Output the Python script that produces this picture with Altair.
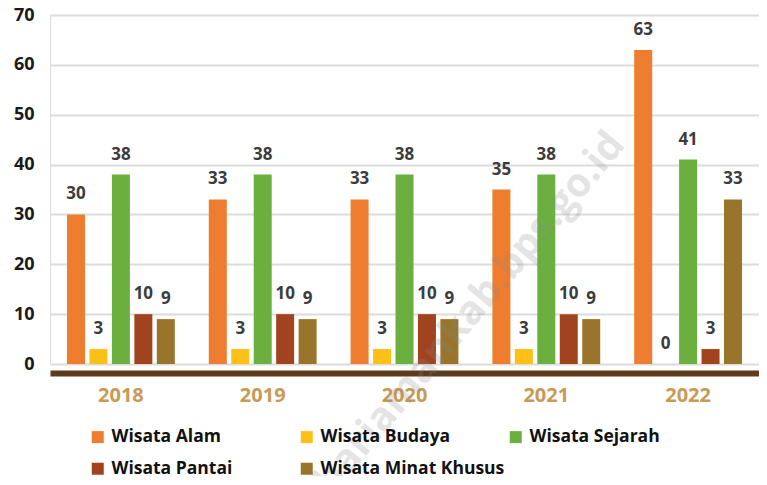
import altair as alt
import pandas as pd

years = ["2018", "2019", "2020", "2021", "2022"]
series = ["Wisata Alam", "Wisata Budaya", "Wisata Sejarah", "Wisata Pantai", "Wisata Minat Khusus"]
colors = ["#EF7D2F", "#FDC017", "#6BB03E", "#A2431F", "#98752B"]
values = {
    "Wisata Alam": [30, 33, 33, 35, 63],
    "Wisata Budaya": [3, 3, 3, 3, 0],
    "Wisata Sejarah": [38, 38, 38, 38, 41],
    "Wisata Pantai": [10, 10, 10, 10, 3],
    "Wisata Minat Khusus": [9, 9, 9, 9, 33],
}
y_ticks = [0, 10, 20, 30, 40, 50, 60, 70]
watermark = "bariamankab.bps.go.id"

rows = []
for s in series:
    for yr, v in zip(years, values[s]):
        rows.append({"Tahun": yr, "Jenis": s, "Nilai": v, "order": series.index(s)})
df = pd.DataFrame(rows)

FONT = "Open Sans"

x_enc = alt.X("Tahun:N", sort=years,
              scale=alt.Scale(paddingInner=0.24, paddingOuter=0.12),
              axis=alt.Axis(title=None, labelAngle=0, labelFont=FONT, labelFontSize=20,
                            labelFontWeight="bold", labelColor="#C99A55", ticks=False,
                            domainColor="#5E3B1C", domainWidth=6, offset=9,
                            labelPadding=12, grid=False))
xo_enc = alt.XOffset("Jenis:N", sort=series,
                     scale=alt.Scale(paddingInner=0.2, paddingOuter=0))
y_enc = alt.Y("Nilai:Q",
              scale=alt.Scale(domain=[0, 70], nice=False),
              axis=alt.Axis(title=None, values=y_ticks, labelFont=FONT, labelFontSize=18,
                            labelFontWeight="bold", labelColor="#1A1A1A", ticks=False,
                            domain=False, labelPadding=16, gridColor="#DCDCDC",
                            gridWidth=2))

bars = alt.Chart(df).mark_bar(size=18).encode(
    x=x_enc,
    xOffset=xo_enc,
    y=y_enc,
    color=alt.Color("Jenis:N", sort=series,
                    scale=alt.Scale(domain=series, range=colors),
                    legend=alt.Legend(title=None, orient="none", legendX=39, legendY=413,
                                      direction="horizontal", columns=3, gridAlign="all",
                                      symbolType="square", symbolSize=144,
                                      symbolStrokeWidth=0, labelFont=FONT,
                                      labelFontSize=17.5, labelFontWeight="bold",
                                      labelColor="#111111", labelLimit=400,
                                      columnPadding=2, rowPadding=13, padding=0,
                                      labelOffset=5)),
)

labels = alt.Chart(df).mark_text(baseline="bottom", dy=-11, font=FONT, fontSize=17,
                                 fontWeight="bold", color="#3C3C3C").encode(
    x=alt.X("Tahun:N", sort=years),
    xOffset=alt.XOffset("Jenis:N", sort=series),
    y="Nilai:Q",
    text="Nilai:Q",
)

wm = alt.Chart(pd.DataFrame({"t": [watermark]})).mark_text(
    font=FONT, fontSize=40, fontWeight="bold", color="#888888", opacity=0.22,
    angle=310, align="center", baseline="middle").encode(
    text="t:N", x=alt.value(420), y=alt.value(298))

chart = alt.layer(bars, labels, wm).properties(
    width=709, height=349,
    autosize=alt.AutoSizeParams(type="none"),
    padding={"left": 42, "top": 7, "right": 0, "bottom": 112},
).configure_view(stroke=None).configure(background="white")

chart.save("out.html", embed_options={"renderer": "svg", "actions": False})
